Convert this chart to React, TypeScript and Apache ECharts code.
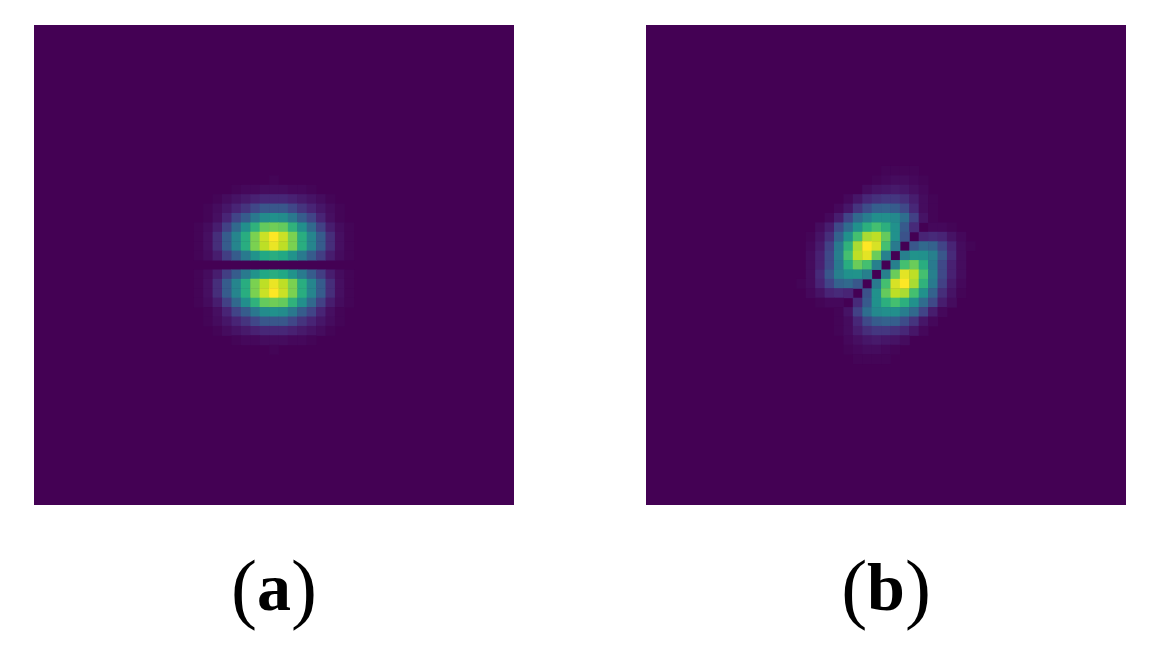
import React, { useEffect, useRef } from "react";
import * as echarts from "echarts";

const GRID_SIZE = 51;
const WINDOW_OFFSET = 15; // the arrays below cover cells 15..35 of the 51x51 image

const viridis = ["#440154","#482475","#414487","#355f8d","#2a788e","#21918c","#22a884","#44bf70","#7ad151","#bddf26","#fde725"];

const panelA: number[][] = [
  [0,0,0,0,0,0,0,0,0,0,0,0,0,0,0,0,0,0,0,0,0],
  [0,0,0,0,0,0,0,0,0,0,1,0,0,0,0,0,0,0,0,0,0],
  [0,0,0,0,0,0,1,2,2,3,3,3,2,2,1,0,0,0,0,0,0],
  [0,0,0,0,1,3,5,7,9,11,11,11,9,7,5,3,1,0,0,0,0],
  [0,0,0,1,3,6,10,15,21,27,27,27,21,15,10,6,3,1,0,0,0],
  [0,0,0,1,4,10,20,29,40,48,50,48,40,29,20,10,4,1,0,0,0],
  [0,0,1,3,8,19,34,49,64,76,78,76,64,49,34,19,8,3,1,0,0],
  [0,0,1,4,13,29,45,62,80,92,100,92,80,62,45,29,13,4,1,0,0],
  [0,0,1,4,13,29,45,62,80,90,97,90,80,62,45,29,13,4,1,0,0],
  [0,0,1,3,8,18,29,41,51,60,62,60,51,41,29,18,8,3,1,0,0],
  [0,0,0,0,0,0,0,0,0,0,0,0,0,0,0,0,0,0,0,0,0],
  [0,0,1,3,8,18,29,41,51,60,62,60,51,41,29,18,8,3,1,0,0],
  [0,0,1,4,13,29,45,62,80,90,97,90,80,62,45,29,13,4,1,0,0],
  [0,0,1,4,13,29,45,62,80,92,100,92,80,62,45,29,13,4,1,0,0],
  [0,0,1,3,8,19,34,49,64,76,78,76,64,49,34,19,8,3,1,0,0],
  [0,0,0,1,4,10,20,29,40,48,50,48,40,29,20,10,4,1,0,0,0],
  [0,0,0,1,3,6,10,15,21,27,27,27,21,15,10,6,3,1,0,0,0],
  [0,0,0,0,1,3,5,7,9,11,11,11,9,7,5,3,1,0,0,0,0],
  [0,0,0,0,0,0,1,2,2,3,3,3,2,2,1,0,0,0,0,0,0],
  [0,0,0,0,0,0,0,0,0,0,1,0,0,0,0,0,0,0,0,0,0],
  [0,0,0,0,0,0,0,0,0,0,0,0,0,0,0,0,0,0,0,0,0],
];

const panelB: number[][] = [
  [0,0,0,0,0,0,0,0,0,0,1,1,1,1,0,0,0,0,0,0,0],
  [0,0,0,0,0,0,0,0,0,1,2,3,3,2,1,0,0,0,0,0,0],
  [0,0,0,0,0,0,0,0,3,5,6,7,6,4,2,0,0,0,0,0,0],
  [0,0,0,0,0,0,2,6,11,14,16,16,13,8,3,1,0,0,0,0,0],
  [0,0,0,0,0,2,6,15,23,30,31,29,22,11,3,1,0,0,0,0,0],
  [0,0,0,0,2,8,20,34,42,49,49,47,36,19,5,1,0,0,0,0,0],
  [0,0,0,3,8,22,35,50,63,70,63,50,28,12,0,2,2,1,0,0,0],
  [0,0,1,5,13,31,50,70,87,90,76,50,25,0,10,12,10,5,2,0,0],
  [0,0,2,7,19,41,64,87,100,94,70,41,0,27,34,31,20,10,3,1,0],
  [0,0,3,9,22,43,70,90,96,77,43,0,43,51,50,43,27,12,3,0,0],
  [0,0,3,9,22,41,62,77,70,43,0,43,70,77,62,41,22,9,3,0,0],
  [0,0,3,12,27,43,50,51,43,0,43,77,96,90,70,43,22,9,3,0,0],
  [0,1,3,10,20,31,34,27,0,41,70,94,100,87,64,41,19,7,2,0,0],
  [0,0,2,5,10,12,10,0,25,50,76,90,87,70,50,31,13,5,1,0,0],
  [0,0,0,1,2,2,0,12,28,50,63,70,63,50,35,22,8,3,0,0,0],
  [0,0,0,0,0,1,5,19,36,47,49,49,42,34,20,8,2,0,0,0,0],
  [0,0,0,0,0,1,3,11,22,29,31,30,23,15,6,2,0,0,0,0,0],
  [0,0,0,0,0,1,3,8,13,16,16,14,11,6,2,0,0,0,0,0,0],
  [0,0,0,0,0,0,2,4,6,7,6,5,3,0,0,0,0,0,0,0,0],
  [0,0,0,0,0,0,1,2,3,3,2,1,0,0,0,0,0,0,0,0,0],
  [0,0,0,0,0,0,0,1,1,1,1,0,0,0,0,0,0,0,0,0,0],
];

const labels = ["a", "b"];
const gridLefts = [34, 646];

function toCells(rows: number[][]) {
  const cells: number[][] = [];
  rows.forEach((row, r) =>
    row.forEach((v, c) => {
      if (v > 0) cells.push([c + WINDOW_OFFSET, r + WINDOW_OFFSET, v]);
    })
  );
  return cells;
}

export default function App() {
  const ref = useRef<HTMLDivElement>(null);
  useEffect(() => {
    const chart = echarts.init(ref.current!, null, { renderer: "svg" });
    const cats = Array.from({ length: GRID_SIZE }, (_, i) => String(i));
    const panels = [panelA, panelB];
    chart.setOption({
      animation: false,
      backgroundColor: "#ffffff",
      grid: gridLefts.map((left) => ({
        left, top: 25, width: 480, height: 480, show: true,
        backgroundColor: viridis[0], borderWidth: 0,
      })),
      xAxis: gridLefts.map((_, i) => ({ type: "category", gridIndex: i, data: cats, show: false })),
      yAxis: gridLefts.map((_, i) => ({ type: "category", gridIndex: i, data: cats, show: false, inverse: true })),
      visualMap: {
        show: false, min: 0, max: 100, seriesIndex: [0, 1], dimension: 2,
        inRange: { color: viridis },
      },
      series: panels.map((rows, i) => ({
        type: "heatmap", xAxisIndex: i, yAxisIndex: i, data: toCells(rows),
        emphasis: { disabled: true }, progressive: 0,
        itemStyle: { borderWidth: 0 },
      })),
      graphic: labels.map((l, i) => ({
        type: "text",
        x: gridLefts[i] + 240,
        y: 587,
        style: {
          text: `{p|(}{t|${l}}{p|)}`,
          align: "center",
          verticalAlign: "middle",
          rich: {
            p: { font: '400 78px "Liberation Serif"', fill: "#000" },
            t: { font: '700 68px "Liberation Serif"', fill: "#000" },
          },
        },
      })),
    });
    return () => chart.dispose();
  }, []);
  return (
    <div
      ref={ref}
      style={{ position: "fixed", left: 0, top: 0, width: 1161, height: 651, background: "#fff" }}
    />
  );
}
